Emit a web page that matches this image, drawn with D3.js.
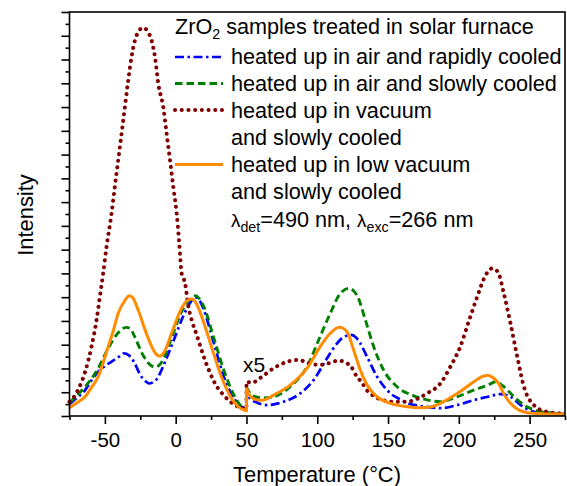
<!DOCTYPE html>
<html>
<head>
<meta charset="utf-8">
<script src="https://cdn.jsdelivr.net/npm/d3@7"></script>
<style>
  html, body { margin: 0; padding: 0; background: #fff; }
  svg { display: block; }
  text { font-family: Arial, "Liberation Sans", sans-serif; fill: #000; }
</style>
</head>
<body>
<svg id="chart" width="567" height="486"></svg>
<script>
// ---- Data (displayed values; above 50 °C the curves are shown x5) ----
const xMajorTicks = [-50, 0, 50, 100, 150, 200, 250];
const xMinorTicks = [-75, -25, 25, 75, 125, 175, 225, 275];
const xLabel = "Temperature (°C)";
const yLabel = "Intensity";

// heated up in air and rapidly cooled (blue, dash-dot)
const airRapidLow = [[-75,0.5],[-70,0.75],[-64,1.09],[-60,1.45],[-54.8,1.86],[-50,2.1],[-45,2.3],[-40,2.5],[-36.6,2.64],[-33,2.55],[-29.5,2.28],[-24.9,1.72],[-21,1.45],[-19,1.37],[-16,1.42],[-13,1.58],[-8.5,2.14],[-1.3,3.2],[5.7,4.25],[10,4.75],[14,4.99],[17,4.85],[19.9,4.46],[27,3.06],[34,1.65],[41.2,0.74],[45,0.45],[48.8,0.32],[50,0.3]];
const airRapidHigh = [[50,1.0],[53,0.72],[58,0.55],[64.4,0.46],[70,0.5],[76.2,0.6],[88,0.95],[97.4,1.51],[106.9,2.43],[114,3.06],[118,3.3],[121,3.38],[124,3.41],[127,3.32],[130,3.1],[135.2,2.49],[142.3,1.65],[151.7,0.95],[158.7,0.7],[163.5,0.55],[172.9,0.42],[180,0.36],[187,0.33],[198.9,0.46],[210.6,0.67],[220.5,0.81],[229.5,0.92],[236.5,0.81],[243.7,0.46],[253,0.18],[267,0.1],[275,0.08]];

// heated up in air and slowly cooled (green, dashed)
const airSlowLow = [[-75,0.55],[-70,0.85],[-64,1.23],[-54.8,2.0],[-47.7,2.85],[-40.6,3.5],[-35,3.73],[-32,3.68],[-29.5,3.4],[-22.4,2.49],[-18,2.15],[-15.3,2.07],[-12,2.12],[-9.7,2.28],[-3,3.27],[4.2,4.39],[10,4.9],[14,5.06],[16.5,4.95],[19.9,4.6],[27,3.27],[34,1.93],[41.2,0.88],[45,0.5],[48.8,0.3],[50,0.28]];
const airSlowHigh = [[50,1.2],[53,0.92],[57,0.8],[62,0.76],[69.1,0.81],[80.9,1.23],[92.7,2.07],[102,3.34],[109.2,4.32],[116.3,5.16],[122.2,5.37],[128,5.09],[134,4.04],[139.9,2.91],[146.9,1.93],[156.4,1.23],[168.2,0.85],[177.6,0.68],[187,0.6],[198.9,0.81],[210.6,1.09],[220.5,1.3],[226,1.44],[231.8,1.23],[239,0.81],[246,0.46],[255.5,0.22],[267,0.12],[275,0.08]];

// heated up in vacuum and slowly cooled (maroon, dotted)
const vacuumLow = [[-75,0.6],[-73.6,0.67],[-69,1.1],[-64,1.85],[-59.5,2.91],[-55.9,4.04],[-53.6,5.0],[-51.2,6.0],[-48.9,7.1],[-45.3,8.52],[-43,9.64],[-40.6,10.77],[-38.2,11.89],[-35.9,13.0],[-33.5,14.13],[-31.2,15.1],[-28.8,15.8],[-26,16.2],[-23,16.34],[-20,16.2],[-17,15.8],[-14.6,15.1],[-12.3,14.0],[-8.8,13.0],[-6.4,11.89],[-4,10.77],[-1.7,9.64],[0.7,8.52],[2.5,7.3],[4.2,6.0],[6.6,5.6],[9,4.6],[11.3,4.04],[14.9,3.4],[20.7,2.35],[27.8,1.37],[34.9,0.81],[42,0.46],[47.9,0.3],[50,0.28]];
const vacuumHigh = [[50,1.45],[54,1.4],[59.7,1.6],[69,2.0],[78.6,2.28],[86.8,2.36],[95,2.2],[102,2.15],[108,2.22],[115,2.33],[121,2.22],[124,2.07],[128,1.65],[131,1.45],[135,1.09],[139,0.88],[144.6,0.7],[154,0.6],[163,0.6],[170.6,0.72],[177.5,0.95],[187,1.37],[194,2.07],[201,2.91],[207,3.97],[213,5.02],[219,5.93],[223.5,6.21],[227.5,6.07],[231.8,5.16],[236.5,3.9],[241.3,2.49],[246,1.23],[253,0.46],[262,0.18],[275,0.1]];

// heated up in low vacuum and slowly cooled (orange, solid)
const lowVacuumLow = [[-75,0.35],[-70,0.55],[-64,0.81],[-60,1.15],[-54.8,1.65],[-47.7,2.91],[-44,3.6],[-40.6,4.32],[-36,4.85],[-32.8,5.06],[-30,4.95],[-26.5,4.46],[-19.4,3.27],[-15,2.7],[-11.6,2.52],[-8,2.7],[-2.9,3.48],[4.2,4.53],[8,4.85],[11.3,4.92],[14.5,4.75],[18.4,4.18],[25.3,2.91],[32.3,1.65],[39.5,0.74],[44,0.4],[48.8,0.24],[50,0.22]];
const lowVacuumHigh = [[50,1.15],[53,0.82],[57.3,0.68],[61,0.66],[69.1,0.88],[80.9,1.3],[92.7,2.0],[102,2.91],[109.2,3.48],[115.6,3.73],[121,3.55],[125.7,2.78],[130.4,1.93],[135.2,1.3],[142.3,0.81],[151.7,0.53],[163.5,0.39],[172.9,0.35],[180,0.38],[187,0.53],[198.9,0.95],[210.6,1.44],[216,1.65],[220.5,1.72],[224,1.62],[227.2,1.44],[233,0.81],[239,0.39],[248.4,0.14],[257.9,0.1],[275,0.08]];

const seriesNames = [
  "heated up in air and rapidly cooled",
  "heated up in air and slowly cooled",
  "heated up in vacuum",
  "heated up in low vacuum"
];

// ---- Layout ----
const svg = d3.select("#chart");
const x = d3.scaleLinear().domain([-75, 275]).range([69.5, 565]);
const y = d3.scaleLinear().domain([0, 17]).range([416, 12]);

const series = [
  { name: seriesNames[0], low: airRapidLow,  high: airRapidHigh,  color: "#0000ff", width: 2.7, dash: "9,3.5,2.5,3.5", cap: "butt" },
  { name: seriesNames[1], low: airSlowLow,   high: airSlowHigh,   color: "#008000", width: 2.9, dash: "7.5,4", cap: "butt" },
  { name: seriesNames[2], low: vacuumLow,    high: vacuumHigh,    color: "#800000", width: 4.0, dash: "0.1,6.6", cap: "round" },
  { name: seriesNames[3], low: lowVacuumLow, high: lowVacuumHigh, color: "#ff8c00", width: 3.0, dash: null, cap: "butt" }
];

const line = d3.line().x(d => x(d[0])).y(d => y(d[1])).curve(d3.curveMonotoneX);

// curves
const gCurves = svg.append("g");
series.forEach(s => {
  const d = line(s.low) + line(s.high).replace(/^M/, "L");
  gCurves.append("path")
    .attr("d", d)
    .attr("fill", "none")
    .attr("stroke", s.color)
    .attr("stroke-width", s.width)
    .attr("stroke-linecap", s.cap)
    .attr("stroke-linejoin", "round")
    .attr("stroke-dasharray", s.dash);
});

// axes
const axisStroke = 1.6;
const gx = svg.append("g").attr("transform", `translate(0,${y(0)})`)
  .call(d3.axisBottom(x).tickValues(xMajorTicks).tickSize(8).tickPadding(8).tickFormat(d => String(d)));
const gxm = svg.append("g").attr("transform", `translate(0,${y(0)})`)
  .call(d3.axisBottom(x).tickValues(xMinorTicks).tickSize(4).tickFormat(""));
const gy = svg.append("g").attr("transform", `translate(${x(-75)},0)`)
  .call(d3.axisLeft(y).tickValues(d3.range(0, 18, 1)).tickSize(8).tickFormat(""));
const gym = svg.append("g").attr("transform", `translate(${x(-75)},0)`)
  .call(d3.axisLeft(y).tickValues(d3.range(0.5, 17, 1)).tickSize(4).tickFormat(""));
[gx, gxm, gy, gym].forEach(g => {
  g.select(".domain").remove();
  g.selectAll(".tick line").attr("stroke", "#000").attr("stroke-width", axisStroke);
});
gx.selectAll(".tick text").attr("font-size", 20.5).attr("fill", "#000")
  .attr("font-family", 'Arial, "Liberation Sans", sans-serif');

// frame
svg.append("rect")
  .attr("x", x(-75)).attr("y", y(17))
  .attr("width", x(275) - x(-75)).attr("height", y(0) - y(17))
  .attr("fill", "none").attr("stroke", "#000").attr("stroke-width", axisStroke);

// helper: fit a text element's font size so its rendered width matches a target width
function fitSize(sel, base, target) {
  sel.attr("font-size", base);
  const len = sel.node().getComputedTextLength();
  const fsz = len > 0 ? base * target / len : base;
  sel.attr("font-size", fsz);
  return fsz;
}

// axis titles
const xt = svg.append("text").attr("x", 317).attr("y", 482).attr("text-anchor", "middle").text(xLabel);
fitSize(xt, 22, 168);
const yt = svg.append("text").attr("transform", "translate(33,215) rotate(-90)").attr("text-anchor", "middle").text(yLabel);
yt.attr("font-size", xt.attr("font-size"));

// x5 marker
svg.append("text").attr("x", 243).attr("y", 372).attr("font-size", 21).text("x5");

// legend rows
const legendRows = [
  { s: 0, lineY: 57, lines: [[seriesNames[0], 63.5]] },
  { s: 1, lineY: 83.5, lines: [[seriesNames[1], 90.5]] },
  { s: 2, lineY: 110, lines: [[seriesNames[2], 117.5], ["and slowly cooled", 144.5]] },
  { s: 3, lineY: 164.5, lines: [[seriesNames[3], 171.5], ["and slowly cooled", 199]] }
];
const legendTexts = [];
legendRows.forEach(r => {
  const s = series[r.s];
  svg.append("line").attr("x1", 175).attr("x2", 223).attr("y1", r.lineY).attr("y2", r.lineY)
    .attr("stroke", s.color).attr("stroke-width", s.width)
    .attr("stroke-linecap", s.cap).attr("stroke-dasharray", s.dash);
  r.lines.forEach(([t, yy]) => {
    legendTexts.push(svg.append("text").attr("x", 231).attr("y", yy).text(t));
  });
});
const fs = fitSize(legendTexts[0], 22, 331);
legendTexts.forEach(t => t.attr("font-size", fs));
const sub = fs * 0.66;

const title = svg.append("text").attr("x", 175).attr("y", 34).attr("font-size", fs);
title.append("tspan").text("ZrO");
title.append("tspan").attr("font-size", sub).attr("dy", 5).text("2");
title.append("tspan").attr("dy", -5).text(" samples treated in solar furnace");

const lam = svg.append("text").attr("x", 231).attr("y", 226.5).attr("font-size", fs);
lam.append("tspan").attr("font-size", fs * 0.87).text("λ");
lam.append("tspan").attr("font-size", sub).attr("dy", 5).text("det");
lam.append("tspan").attr("dy", -5).text("=490 nm, ");
lam.append("tspan").attr("font-size", fs * 0.87).text("λ");
lam.append("tspan").attr("font-size", sub).attr("dy", 5).text("exc");
lam.append("tspan").attr("dy", -5).text("=266 nm");
</script>
</body>
</html>
